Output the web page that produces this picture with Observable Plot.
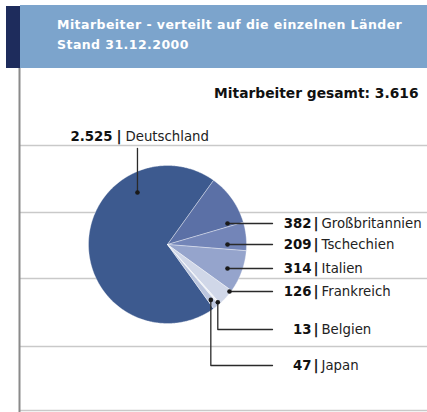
<!DOCTYPE html>
<html><head><meta charset="utf-8">
<script src="https://cdn.jsdelivr.net/npm/d3@7"></script>
<script src="https://cdn.jsdelivr.net/npm/@observablehq/plot@0.6"></script>
<style>
body{margin:0;background:#fff;}
#wrap{position:relative;width:427px;height:412px;overflow:hidden;font-family:"DejaVu Sans",sans-serif;}
#chart{position:absolute;left:0;top:0;}
#band{position:absolute;left:20px;top:5px;width:407px;height:63px;background:#7ca4cc;}
#navy{position:absolute;left:6px;top:6px;width:14px;height:62px;background:#1e2c5c;}
#title{position:absolute;left:57px;top:15px;color:#fff;font-weight:bold;font-size:12.5px;letter-spacing:0.45px;line-height:20px;white-space:nowrap;}
</style></head>
<body>
<div id="wrap"><div id="chart"></div><div id="band"></div><div id="navy"></div><div id="title"></div></div>
<script>
// ---- data ----
const titleLines = ["Mitarbeiter - verteilt auf die einzelnen Länder", "Stand 31.12.2000"];
const totalPrefix = "Mitarbeiter gesamt: ";
const countries = ["Deutschland", "Großbritannien", "Tschechien", "Italien", "Frankreich", "Belgien", "Japan"];
const employees = [2525, 382, 209, 314, 126, 13, 47];

// ---- styles / layout ----
const sliceColors = ["#3d5a8f", "#5b70a6", "#7385b8", "#95a4cc", "#d0d7e8", "#eef1f7", "#bcc6de"];
const pieLayout = {cx: 167, cy: 244, r: 79, startDeg: 144.3};
const labelMidY = [136, 223, 244, 268, 291, 329, 365];
const leaderKind = ["up", "h", "h", "h", "h", "elbow", "elbow"];
const leaderDx = [0, 60, 60, 60, 62, 0, 0];
const leaderR = [0.76, 0, 0, 0, 0, 0.97, 0.89];
const leaderAngleShift = [Math.PI / 3, 0, 0, 0, 0, 0, 0];
const leaderEndX = 272;
const rightNumEndX = 311, rightBarX = 315.5, rightNameX = 321;
const leftNumEndX = 112, leftBarX = 118.5, leftNameX = 125;
const gridYs = [145, 212, 278, 346, 410];
const labelFont = 13.3;

document.getElementById("title").innerHTML = titleLines.join("<br>");

const fmt = d3.formatLocale({decimal: ",", thousands: ".", grouping: [3], currency: ["", "€"]}).format(",d");
const total = d3.sum(employees);

const rows = countries.map((c, i) => ({country: c, value: employees[i], color: sliceColors[i], i}));
const arcs = d3.pie().sort(null).value(d => d.value)
  .startAngle(pieLayout.startDeg * Math.PI / 180)
  .endAngle(pieLayout.startDeg * Math.PI / 180 + 2 * Math.PI)(rows);

const P = (a, rr) => [pieLayout.cx + rr * Math.sin(a), pieLayout.cy - rr * Math.cos(a)];

const slices = arcs.map(a => {
  const pts = [P(0, 0)];
  const n = Math.max(2, Math.ceil((a.endAngle - a.startAngle) / 0.01));
  for (let k = 0; k <= n; k++) pts.push(P(a.startAngle + (a.endAngle - a.startAngle) * k / n, pieLayout.r));
  pts.push(P(0, 0));
  return {country: a.data.country, color: a.data.color, pts};
});

const leaders = arcs.map((a, i) => {
  const y = labelMidY[i];
  const mid = (a.startAngle + a.endAngle) / 2 + leaderAngleShift[i];
  if (leaderKind[i] === "h") {
    const x0 = pieLayout.cx + leaderDx[i];
    return {dot: [x0, y], path: [[x0, y], [leaderEndX, y]]};
  }
  const d = P(mid, pieLayout.r * leaderR[i]);
  if (leaderKind[i] === "up") return {dot: d, path: [d, [d[0], y + 12]]};
  return {dot: d, path: [d, [d[0], y], [leaderEndX, y]]};
});

const labels = rows.map((r, i) => ({
  num: fmt(r.value), name: r.country, y: labelMidY[i], left: leaderKind[i] === "up"
}));

const marks = [
  Plot.ruleY(gridYs, {x1: 20, x2: 427, stroke: "#c9c9c9", strokeWidth: 1.5}),
  Plot.ruleX([19], {y1: 66, y2: 412, stroke: "#8a8a8a", strokeWidth: 2}),
  ...slices.map(s => Plot.line(s.pts, {x: d => d[0], y: d => d[1], fill: s.color, stroke: "#ffffff", strokeOpacity: 0.45, strokeWidth: 0.8, curve: "linear"})),
  ...leaders.map(l => Plot.line(l.path, {x: d => d[0], y: d => d[1], stroke: "#2a2a2a", strokeWidth: 1.3})),
  Plot.dot(leaders, {x: d => d.dot[0], y: d => d.dot[1], r: 2.3, fill: "#1a1a1a"}),
  Plot.text(labels, {x: d => d.left ? leftNumEndX : rightNumEndX, y: "y", text: "num", textAnchor: "end", fontWeight: "bold", fontSize: labelFont, fill: "#111"}),
  Plot.text(labels, {x: d => d.left ? leftBarX : rightBarX, y: "y", text: () => "|", fontWeight: "bold", fontSize: 14, fill: "#111"}),
  Plot.text(labels, {x: d => d.left ? leftNameX : rightNameX, y: "y", text: "name", textAnchor: "start", fontSize: labelFont, fill: "#222"}),
  Plot.text([totalPrefix + fmt(total)], {x: 418, y: 93, text: d => d, textAnchor: "end", fontWeight: "bold", fontSize: 13.8, fill: "#111"})
];

const chart = Plot.plot({
  width: 427, height: 412, margin: 0,
  x: {domain: [0, 427], range: [0, 427], axis: null},
  y: {domain: [0, 412], range: [0, 412], axis: null},
  style: {fontFamily: "DejaVu Sans, sans-serif", background: "#fff", overflow: "visible"},
  marks
});
document.getElementById("chart").appendChild(chart);
</script>
</body></html>
